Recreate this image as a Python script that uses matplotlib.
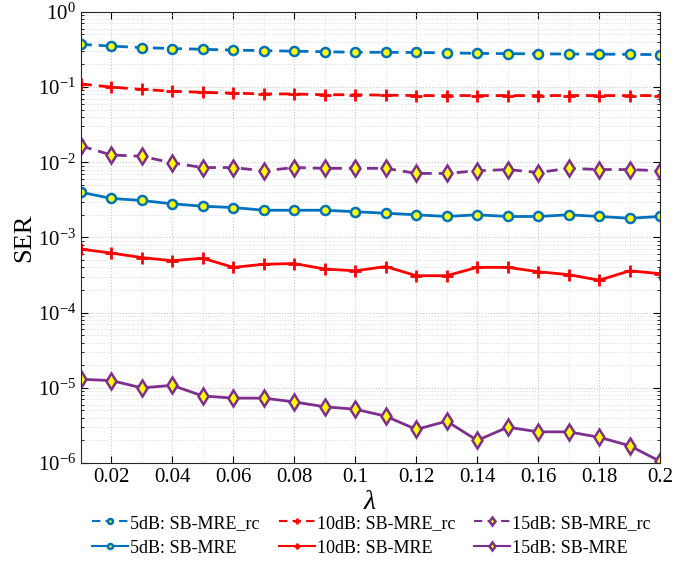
import matplotlib
matplotlib.use("Agg")
import matplotlib.pyplot as plt
import numpy as np

lam = [0.01, 0.02, 0.03, 0.04, 0.05, 0.06, 0.07, 0.08, 0.09, 0.10,
       0.11, 0.12, 0.13, 0.14, 0.15, 0.16, 0.17, 0.18, 0.19, 0.20]

ser5_rc = [0.37, 0.35, 0.335, 0.325, 0.318, 0.31, 0.305, 0.30, 0.295, 0.29,
           0.29, 0.288, 0.285, 0.28, 0.278, 0.276, 0.275, 0.274, 0.272, 0.27]
ser10_rc = [0.11, 0.10, 0.093, 0.088, 0.085, 0.083, 0.081, 0.081, 0.079, 0.079,
            0.078, 0.077, 0.077, 0.077, 0.077, 0.077, 0.077, 0.077, 0.077, 0.077]
ser15_rc = [0.0165, 0.0125, 0.012, 0.0098, 0.0085, 0.0085, 0.0077, 0.0085, 0.0083, 0.0083,
            0.0083, 0.0071, 0.0071, 0.0077, 0.0080, 0.0073, 0.0083, 0.0080, 0.0080, 0.0077]
ser5 = [0.0040, 0.0033, 0.0031, 0.0028, 0.0026, 0.0025, 0.0023, 0.0023, 0.0023, 0.0022,
        0.0021, 0.0020, 0.0019, 0.0020, 0.0019, 0.0019, 0.0020, 0.0019, 0.0018, 0.0019]
ser10 = [7.0e-4, 6.2e-4, 5.4e-4, 4.9e-4, 5.3e-4, 4.0e-4, 4.4e-4, 4.5e-4, 3.8e-4, 3.6e-4,
         4.1e-4, 3.1e-4, 3.1e-4, 4.0e-4, 4.0e-4, 3.5e-4, 3.2e-4, 2.7e-4, 3.6e-4, 3.3e-4]
ser15 = [1.3e-5, 1.25e-5, 1.0e-5, 1.08e-5, 7.8e-6, 7.3e-6, 7.3e-6, 6.5e-6, 5.6e-6, 5.2e-6,
         4.2e-6, 2.8e-6, 3.6e-6, 2.0e-6, 3.0e-6, 2.6e-6, 2.6e-6, 2.2e-6, 1.7e-6, 1.05e-6]

labels_rc = ["5dB: SB-MRE_rc", "10dB: SB-MRE_rc", "15dB: SB-MRE_rc"]
labels = ["5dB: SB-MRE", "10dB: SB-MRE", "15dB: SB-MRE"]
xticks = [0.02, 0.04, 0.06, 0.08, 0.1, 0.12, 0.14, 0.16, 0.18, 0.2]
xticklabels = ["0.02", "0.04", "0.06", "0.08", "0.1", "0.12", "0.14", "0.16", "0.18", "0.2"]

plt.rcParams['font.family'] = ['Liberation Serif', 'DejaVu Serif']
plt.rcParams['mathtext.fontset'] = 'custom'
plt.rcParams['mathtext.rm'] = 'Liberation Serif'
plt.rcParams['mathtext.it'] = 'Liberation Serif:italic'

blue = '#0072BD'
red = '#FF0000'
purple = '#7E2F8E'
yellow = '#FFFF00'
dash = (4, 2.5)

fig = plt.figure(figsize=(6.73, 5.64), dpi=100)
ax = fig.add_axes([0.12, 0.179, 0.861, 0.80])

h = []
h.append(ax.plot(lam, ser5_rc, '--', dashes=dash, color=blue, lw=2, marker='o', ms=6.5, mfc=yellow, mec=blue, mew=1.8, label=labels_rc[0])[0])
h.append(ax.plot(lam, ser5, '-', color=blue, lw=2, marker='o', ms=6.5, mfc=yellow, mec=blue, mew=1.8, label=labels[0])[0])
h.append(ax.plot(lam, ser10_rc, '--', dashes=dash, color=red, lw=2, marker='+', ms=8, mew=2, label=labels_rc[1])[0])
h.append(ax.plot(lam, ser10, '-', color=red, lw=2, marker='+', ms=8, mew=2, label=labels[1])[0])
h.append(ax.plot(lam, ser15_rc, '--', dashes=dash, color=purple, lw=2, marker='d', ms=8, mfc=yellow, mec=purple, mew=1.8, label=labels_rc[2])[0])
h.append(ax.plot(lam, ser15, '-', color=purple, lw=2, marker='d', ms=8, mfc=yellow, mec=purple, mew=1.8, label=labels[2])[0])

ax.set_yscale('log')
ax.set_ylim(1e-6, 1)
ax.set_xlim(0.01, 0.2)
ax.set_xticks(xticks)
ax.set_xticklabels(xticklabels)
ax.tick_params(which='both', direction='in', top=True, right=True, labelsize=15)
ax.tick_params(which='major', length=5)
ax.tick_params(which='minor', length=2.5)
ax.xaxis.set_minor_locator(matplotlib.ticker.MultipleLocator(0.01))
ax.tick_params(axis='x', which='minor', length=0)
ax.grid(True, which='major', ls=':', color='#c8c8c8', lw=0.8)
ax.grid(True, which='minor', ls=':', color='#dddddd', lw=0.7)
for s in ax.spines.values():
    s.set_color('#262626')
    s.set_linewidth(0.8)
ax.set_xlabel(r'$\lambda$', fontsize=20, labelpad=2)
ax.set_ylabel('SER', fontsize=19, labelpad=2)

leg = fig.legend(h, [l.get_label() for l in h], ncol=3, loc='lower center',
           bbox_to_anchor=(0.552, -0.016), frameon=False, fontsize=13,
           handlelength=2.0, handletextpad=0.1, columnspacing=1.05, labelspacing=0.45,
           markerscale=0.55)
for lh in leg.legend_handles:
    lh.set_linewidth(1.5)

fig.savefig('out.png', dpi=100)
